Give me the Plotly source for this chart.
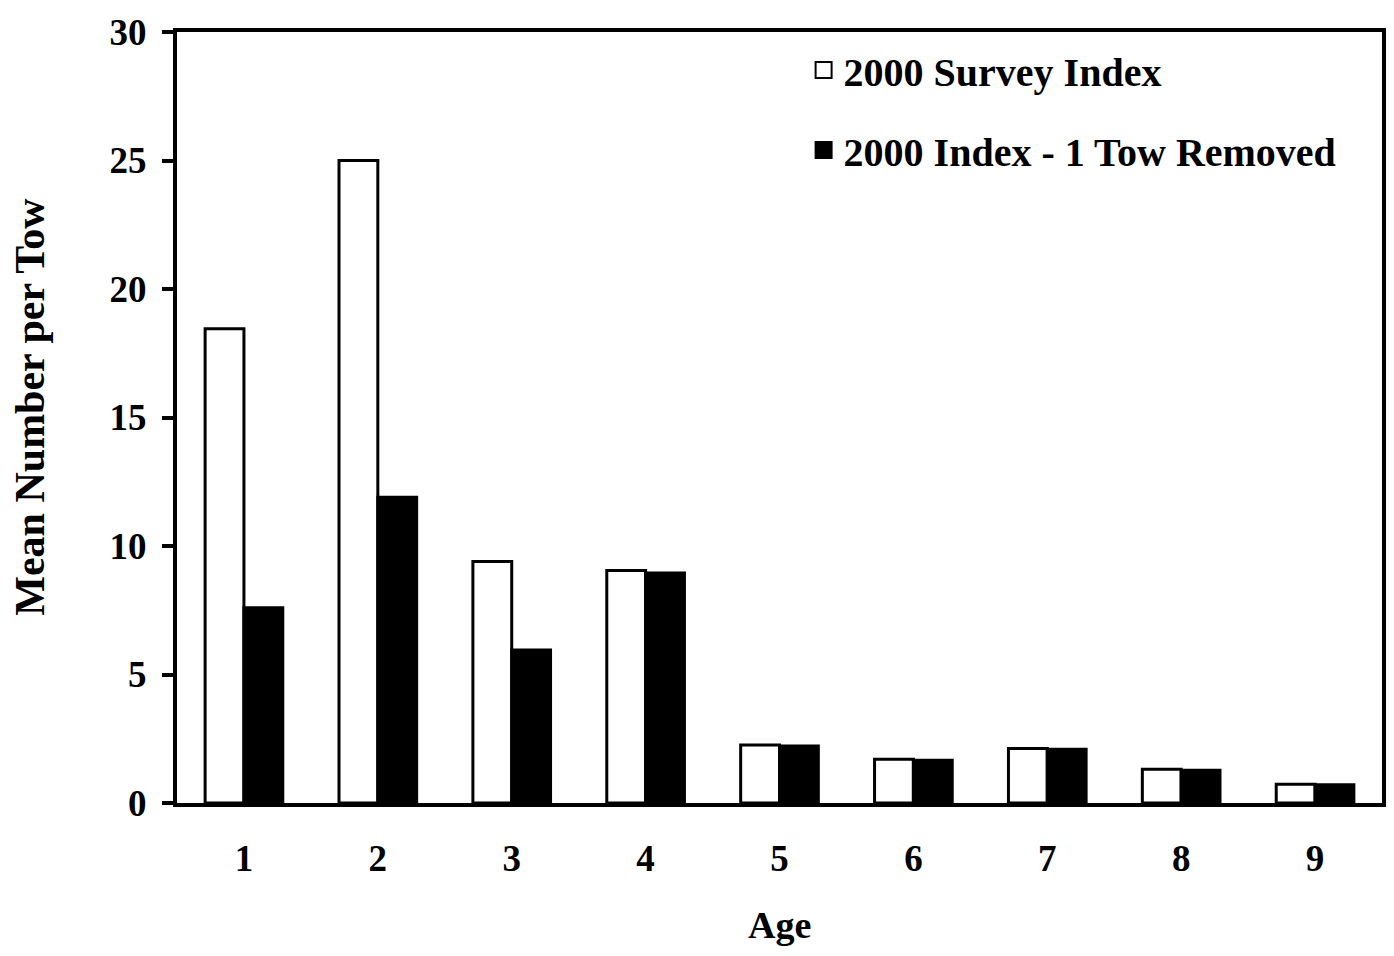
import plotly.graph_objects as go

ages = ["1", "2", "3", "4", "5", "6", "7", "8", "9"]
survey_index = [18.45, 25.0, 9.4, 9.05, 2.26, 1.7, 2.12, 1.31, 0.73]
tow_removed = [7.6, 11.9, 5.95, 8.95, 2.22, 1.66, 2.09, 1.27, 0.71]

font_family = "Liberation Serif, Times New Roman, serif"

fig = go.Figure()

# Bars (legend handled by the square markers below)
fig.add_trace(go.Bar(x=ages, y=survey_index, name="2000 Survey Index",
                     marker=dict(color="white", line=dict(color="black", width=3)),
                     showlegend=False))
fig.add_trace(go.Bar(x=ages, y=tow_removed, name="2000 Index - 1 Tow Removed",
                     marker=dict(color="black", line=dict(color="black", width=3)),
                     showlegend=False))

# legend entries with bigger square swatches
fig.add_trace(go.Scatter(x=[None], y=[None], mode="markers", name="2000 Survey Index",
                         legendgroup="a",
                         marker=dict(symbol="square", size=16, color="white",
                                     line=dict(color="black", width=2))))
fig.add_trace(go.Scatter(x=[None], y=[None], mode="markers", name="2000 Index - 1 Tow Removed",
                         legendgroup="b",
                         marker=dict(symbol="square", size=16, color="black",
                                     line=dict(color="black", width=2))))

# page body has an 8px margin, keep the figure small enough to avoid scrollbars
fig.update_layout(
    width=1378, height=940,
    margin=dict(l=169, r=4, t=24, b=145, autoexpand=False),
    paper_bgcolor="white", plot_bgcolor="white",
    barmode="group", bargap=0.42, bargroupgap=0,
    font=dict(family=font_family, size=36, color="black"),
    legend=dict(x=0.52, y=0.993, xanchor="left", yanchor="top",
                tracegroupgap=25, bgcolor="rgba(0,0,0,0)",
                font=dict(family=font_family, size=40, color="black", weight="bold"),
                itemsizing="trace"),
    annotations=[
        dict(text="<b>Age</b>", xref="paper", yref="paper", x=0.5, y=-0.158,
             xanchor="center", yanchor="middle", showarrow=False,
             font=dict(family=font_family, size=38)),
        dict(text="<b>Mean Number per Tow</b>", xref="paper", yref="paper",
             x=-0.122, y=0.514, xanchor="center", yanchor="middle", textangle=-90,
             showarrow=False, font=dict(family=font_family, size=42)),
    ],
)

fig.update_xaxes(
    showline=True, linecolor="black", linewidth=4, mirror=True,
    ticks="", ticklabelstandoff=20, automargin=False,
    tickfont=dict(family=font_family, size=37, weight="bold"),
)
fig.update_yaxes(
    range=[0, 30], dtick=5, showgrid=False, zeroline=False,
    showline=True, linecolor="black", linewidth=4, mirror=True,
    ticks="outside", ticklen=11, tickwidth=4, tickcolor="black",
    ticklabelstandoff=8, automargin=False,
    tickfont=dict(family=font_family, size=37, weight="bold"),
)

fig.write_html("out.html")
